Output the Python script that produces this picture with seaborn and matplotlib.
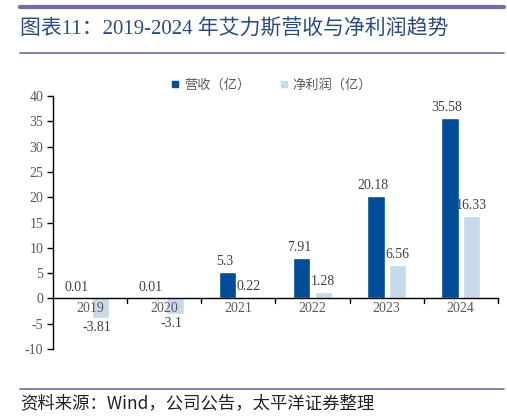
import matplotlib
matplotlib.use("Agg")
import matplotlib.pyplot as plt
import seaborn as sns
import pandas as pd
from matplotlib.lines import Line2D

years = ["2019", "2020", "2021", "2022", "2023", "2024"]
revenue = [0.01, 0.01, 5.3, 7.91, 20.18, 35.58]
profit = [-3.81, -3.1, 0.22, 1.28, 6.56, 16.33]
rev_labels = ["0.01", "0.01", "5.3", "7.91", "20.18", "35.58"]
prof_labels = ["-3.81", "-3.1", "0.22", "1.28", "6.56", "16.33"]
series_names = ["营收（亿）", "净利润（亿）"]
y_ticks = [-10, -5, 0, 5, 10, 15, 20, 25, 30, 35, 40]

c_rev = "#004C97"
c_prof = "#C8D9EA"
line_col = "#6E6FA0"
title_col = "#2B4C7E"
grey = "#595959"

sns.set_theme(style="white")
plt.rcParams['font.family'] = ['Liberation Serif', 'Noto Sans CJK SC', 'DejaVu Sans']

df = pd.DataFrame({
    "year": years * 2,
    "value": revenue + profit,
    "series": [series_names[0]] * 6 + [series_names[1]] * 6,
})

fig = plt.figure(figsize=(5.07, 4.16), dpi=100)
ax = fig.add_axes([0.1045, 0.161, 0.8775, 0.608])
sns.barplot(data=df, x="year", y="value", hue="series", palette=[c_rev, c_prof],
            width=0.58, gap=0.2, ax=ax, legend=False, saturation=1)

ax.set_ylim(-10, 40)
ax.set_xlim(-0.5, 5.5)
ax.set_yticks(y_ticks)
ax.set_yticklabels([str(t) for t in y_ticks], color=grey, fontsize=10)
ax.set_xlabel("")
ax.set_ylabel("")
ax.set_xticks([])

for s in ["top", "right"]:
    ax.spines[s].set_visible(False)
ax.spines["left"].set_color("black")
ax.spines["left"].set_linewidth(1.0)
ax.spines["bottom"].set_position(("data", 0))
ax.spines["bottom"].set_color("black")
ax.spines["bottom"].set_linewidth(1.0)
ax.tick_params(axis="y", direction="out", length=4, width=1, color="black", left=True, pad=3)

# category boundary ticks on the zero line
for b in [0.5, 1.5, 2.5, 3.5, 4.5, 5.5]:
    ax.plot([b, b], [0, -0.9], color="black", lw=1, clip_on=False)
for i, y in enumerate(years):
    ax.text(i, -0.7, y, ha="center", va="top", color=grey, fontsize=10)

off = 0.145
for i in range(len(years)):
    ax.text(i - off - 0.04, max(revenue[i], 0) + 0.8, rev_labels[i], ha="center", va="bottom",
            color="#404040", fontsize=10)
    if profit[i] >= 0:
        ax.text(i + off, profit[i] + 0.8, prof_labels[i], ha="center", va="bottom",
                color="#404040", fontsize=10)
    else:
        ax.text(i + off - 0.05, profit[i] - 0.6, prof_labels[i], ha="center", va="top",
                color="#404040", fontsize=10)

handles = [Line2D([0], [0], marker="s", linestyle="", color=c_rev, markersize=5),
           Line2D([0], [0], marker="s", linestyle="", color=c_prof, markersize=5)]
fig.legend(handles, series_names, loc="center", bbox_to_anchor=(0.535, 0.796), ncol=2,
           frameon=False, handlelength=0.7, handletextpad=0.3, columnspacing=2.2,
           prop={'family': ['Noto Sans CJK SC'], 'size': 9.5}, labelcolor=grey)

# decorative lines
fig.add_artist(Line2D([0.04, 0.995], [1 - 7 / 416, 1 - 7 / 416], color=line_col, lw=3))
fig.add_artist(Line2D([0.04, 0.995], [1 - 53 / 416, 1 - 53 / 416], color=line_col, lw=1.2))
fig.add_artist(Line2D([0.04, 0.995], [1 - 389 / 416, 1 - 389 / 416], color=line_col, lw=1.2))

fig.text(0.04, 1 - 30 / 416, "图表11：2019-2024 年艾力斯营收与净利润趋势", ha="left", va="center",
         color=title_col, fontsize=15, family=['Liberation Serif', 'Noto Sans CJK SC'])
fig.text(0.04, 1 - 403 / 416, "资料来源：Wind，公司公告，太平洋证券整理", ha="left", va="center",
         color="#222222", fontsize=12.5, style="italic", family=['Noto Sans CJK SC', 'DejaVu Sans'])

fig.savefig("out.png", dpi=100)
